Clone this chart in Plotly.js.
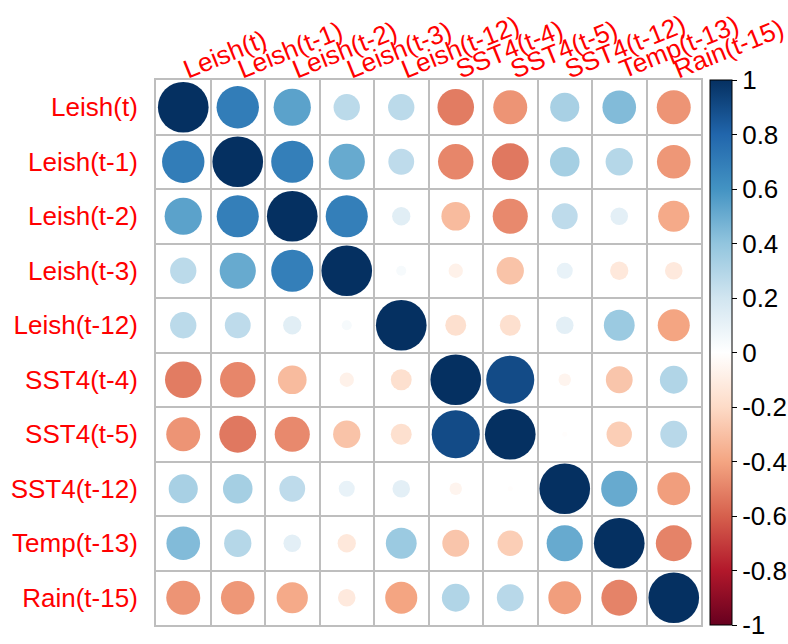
<!DOCTYPE html>
<html><head><meta charset="utf-8">
<script src="https://cdn.plot.ly/plotly-3.0.1.min.js"></script>
<style>body{margin:0;background:#fff}</style>
</head><body><div id="chart" style="width:788px;height:644px"></div>
<script>
const labels = ["Leish(t)","Leish(t-1)","Leish(t-2)","Leish(t-3)","Leish(t-12)","SST4(t-4)","SST4(t-5)","SST4(t-12)","Temp(t-13)","Rain(t-15)"];
const row_Leish_t   = [1, 0.70, 0.54, 0.27, 0.27, -0.52, -0.45, 0.33, 0.44, -0.45];
const row_Leish_t1  = [0.70, 1, 0.69, 0.51, 0.26, -0.49, -0.53, 0.34, 0.29, -0.44];
const row_Leish_t2  = [0.54, 0.69, 1, 0.69, 0.13, -0.32, -0.48, 0.26, 0.12, -0.38];
const row_Leish_t3  = [0.27, 0.51, 0.69, 1, 0.04, -0.08, -0.29, 0.10, -0.13, -0.12];
const row_Leish_t12 = [0.27, 0.26, 0.13, 0.04, 1, -0.17, -0.17, 0.12, 0.37, -0.40];
const row_SST4_t4   = [-0.52, -0.49, -0.32, -0.08, -0.17, 1, 0.90, -0.06, -0.28, 0.30];
const row_SST4_t5   = [-0.45, -0.53, -0.48, -0.29, -0.17, 0.90, 1, -0.01, -0.25, 0.28];
const row_SST4_t12  = [0.33, 0.34, 0.26, 0.10, 0.12, -0.06, -0.01, 1, 0.51, -0.42];
const row_Temp_t13  = [0.44, 0.29, 0.12, -0.13, 0.37, -0.28, -0.25, 0.51, 1, -0.50];
const row_Rain_t15  = [-0.45, -0.44, -0.38, -0.12, -0.40, 0.30, 0.28, -0.42, -0.50, 1];
const colorbarTicks = [-1,-0.8,-0.6,-0.4,-0.2,0,0.2,0.4,0.6,0.8,1];
const colorbarTickText = ["-1","-0.8","-0.6","-0.4","-0.2","0","0.2","0.4","0.6","0.8","1"];

const rows = [row_Leish_t,row_Leish_t1,row_Leish_t2,row_Leish_t3,row_Leish_t12,row_SST4_t4,row_SST4_t5,row_SST4_t12,row_Temp_t13,row_Rain_t15];

const W = 788, H = 644;
const margin = {l:156, r:87, t:80, b:19, autoexpand:false};
const plotW = W - margin.l - margin.r;
const cellPx = plotW / labels.length;

const xs=[], ys=[], cs=[], ss=[];
rows.forEach((row,i)=>{
  row.forEach((v,j)=>{
    xs.push(j+1); ys.push(i+1); cs.push(v);
    ss.push(0.93*cellPx*Math.sqrt(Math.abs(v)));
  });
});

const rdbu = ["#67001F","#B2182B","#D6604D","#F4A582","#FDDBC7","#FFFFFF","#D1E5F0","#92C5DE","#4393C3","#2166AC","#053061"];
const colorscale = rdbu.map((c,k)=>[k/(rdbu.length-1), c]);

const font = "Liberation Sans, Arial, sans-serif";
const ticksIdx = labels.map((_,k)=>k+1);

const trace = {
  type:'scatter', mode:'markers', x:xs, y:ys,
  marker:{size:ss, sizemode:'diameter', color:cs, cmin:-1, cmax:1, colorscale:colorscale,
    opacity:1, line:{width:0},
    showscale:true,
    colorbar:{thickness:22, thicknessmode:'pixels', len:1, lenmode:'fraction',
      x:(710-margin.l)/plotW, xanchor:'left', xpad:0, y:0.5, yanchor:'middle', ypad:0,
      outlinecolor:'black', outlinewidth:1,
      tickmode:'array', tickvals:colorbarTicks, ticktext:colorbarTickText,
      ticks:'outside', ticklen:5, tickcolor:'black', tickwidth:1,
      tickfont:{family:font, size:26, color:'black'}}
  },
  hoverinfo:'skip', showlegend:false
};

const layout = {
  width:W, height:H, margin:margin,
  paper_bgcolor:'white', plot_bgcolor:'white',
  xaxis:{range:[0.5,10.5], side:'top', tickmode:'array', tickvals:ticksIdx, ticktext:labels,
    tickangle:-22, tickfont:{family:font, size:26, color:'#FF0000'}, ticks:'', ticklabelstandoff:-12,
    ticklabeloverflow:'allow', automargin:false,
    showgrid:false, zeroline:false, showline:true, mirror:true, linecolor:'#bebebe', linewidth:2,
    minor:{tickmode:'linear', tick0:0.5, dtick:1, showgrid:true, gridcolor:'#bebebe', gridwidth:2, ticks:''},
    fixedrange:true},
  yaxis:{range:[10.5,0.5], tickmode:'array', tickvals:ticksIdx, ticktext:labels,
    tickfont:{family:font, size:26, color:'#FF0000'}, ticks:'', ticklabelstandoff:11,
    ticklabeloverflow:'allow', automargin:false,
    showgrid:false, zeroline:false, showline:true, mirror:true, linecolor:'#bebebe', linewidth:2,
    minor:{tickmode:'linear', tick0:0.5, dtick:1, showgrid:true, gridcolor:'#bebebe', gridwidth:2, ticks:''},
    fixedrange:true}
};

Plotly.newPlot('chart',[trace],layout,{displayModeBar:false, staticPlot:true});
</script></body></html>
